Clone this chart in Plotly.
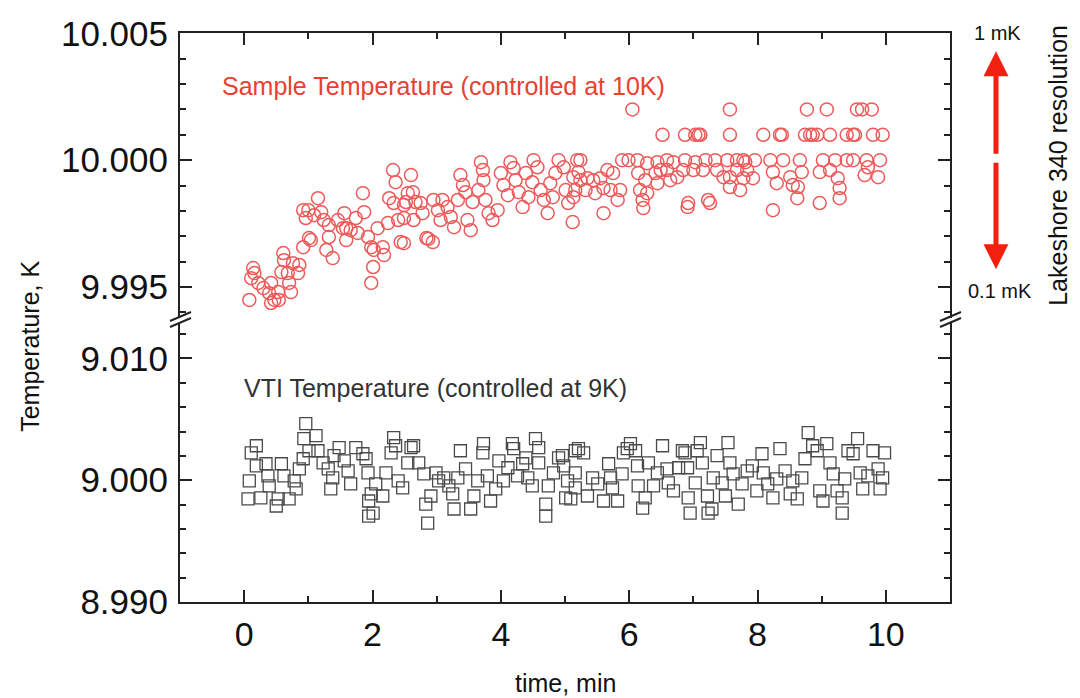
import plotly.graph_objects as go

# sample temperature (red circles), time in min, T in K
sample_t = [0.08, 0.11, 0.14, 0.16, 0.22, 0.30, 0.39, 0.42, 0.42, 0.47, 0.53, 0.54, 0.58, 0.61, 0.62, 0.68,
            0.70, 0.73, 0.76, 0.84, 0.86, 0.92, 0.92, 0.96, 1.00, 1.01, 1.04, 1.09, 1.15, 1.20, 1.24, 1.28,
            1.32, 1.32, 1.38, 1.46, 1.54, 1.56, 1.59, 1.59, 1.66, 1.74, 1.77, 1.85, 1.87, 1.93, 1.98, 1.98,
            2.01, 2.02, 2.08, 2.16, 2.18, 2.24, 2.26, 2.32, 2.33, 2.36, 2.40, 2.44, 2.49, 2.49, 2.49, 2.52,
            2.55, 2.60, 2.63, 2.64, 2.67, 2.75, 2.78, 2.84, 2.87, 2.94, 2.95, 3.02, 3.06, 3.09, 3.17, 3.22,
            3.27, 3.33, 3.37, 3.41, 3.45, 3.48, 3.53, 3.56, 3.65, 3.69, 3.72, 3.73, 3.76, 3.81, 3.87, 3.95,
            4.00, 4.04, 4.11, 4.15, 4.20, 4.23, 4.28, 4.34, 4.39, 4.43, 4.49, 4.51, 4.57, 4.62, 4.67, 4.73,
            4.77, 4.81, 4.85, 4.90, 4.98, 5.01, 5.05, 5.12, 5.13, 5.13, 5.16, 5.19, 5.21, 5.24, 5.24, 5.32,
            5.35, 5.44, 5.47, 5.55, 5.60, 5.60, 5.66, 5.71, 5.75, 5.82, 5.86, 5.89, 5.99, 6.05, 6.13, 6.14,
            6.17, 6.21, 6.22, 6.25, 6.28, 6.28, 6.41, 6.44, 6.44, 6.49, 6.52, 6.59, 6.59, 6.64, 6.69, 6.75,
            6.84, 6.87, 6.87, 6.91, 6.92, 7.00, 7.03, 7.03, 7.08, 7.11, 7.15, 7.19, 7.23, 7.26, 7.34, 7.37,
            7.47, 7.53, 7.57, 7.57, 7.57, 7.57, 7.68, 7.68, 7.73, 7.78, 7.78, 7.81, 7.84, 7.93, 7.96, 8.09,
            8.20, 8.24, 8.24, 8.30, 8.35, 8.38, 8.40, 8.51, 8.55, 8.62, 8.63, 8.66, 8.69, 8.74, 8.77, 8.82,
            8.86, 8.93, 8.97, 8.97, 9.02, 9.08, 9.13, 9.13, 9.21, 9.25, 9.28, 9.28, 9.39, 9.39, 9.49, 9.49,
            9.52, 9.55, 9.63, 9.67, 9.70, 9.72, 9.78, 9.80, 9.88, 9.91, 9.95]
sample_T = [9.99449, 9.99535, 9.99575, 9.99555, 9.99516, 9.99496, 9.99476, 9.99516, 9.99437, 9.99449, 9.99480,
            9.99449, 9.99559, 9.99634, 9.99606, 9.99555, 9.99516, 9.99480, 9.99594, 9.99555, 9.99587, 9.99657,
            9.99803, 9.99772, 9.99803, 9.99693, 9.99685, 9.99783, 9.99850, 9.99795, 9.99764, 9.99646, 9.99697,
            9.99744, 9.99614, 9.99764, 9.99732, 9.99791, 9.99732, 9.99685, 9.99724, 9.99772, 9.99713, 9.99870,
            9.99795, 9.99697, 9.99657, 9.99516, 9.99579, 9.99646, 9.99732, 9.99657, 9.99626, 9.99752, 9.99850,
            9.99961, 9.99831, 9.99913, 9.99764, 9.99677, 9.99772, 9.99823, 9.99673, 9.99835, 9.99870, 9.99941,
            9.99874, 9.99764, 9.99835, 9.99831, 9.99791, 9.99693, 9.99690, 9.99677, 9.99843, 9.99803, 9.99764,
            9.99843, 9.99815, 9.99776, 9.99736, 9.99843, 9.99941, 9.99902, 9.99874, 9.99764, 9.99724, 9.99835,
            9.99882, 9.99992, 9.99961, 9.99921, 9.99843, 9.99791, 9.99764, 9.99803, 9.99949, 9.99902, 9.99862,
            9.99992, 9.99969, 9.99921, 9.99874, 9.99815, 9.99949, 9.99854, 9.99913, 10.00000, 9.99972, 9.99882,
            9.99843, 9.99791, 9.99909, 9.99854, 9.99949, 10.00000, 9.99972, 9.99882, 9.99831, 9.99756, 9.99854,
            9.99933, 9.99882, 10.00000, 9.99953, 10.00000, 9.99921, 9.99882, 9.99929, 9.99921, 9.99870, 9.99929,
            9.99890, 9.99791, 9.99961, 9.99882, 9.99949, 9.99843, 9.99882, 10.00000, 10.00000, 10.00200, 10.00000,
            9.99949, 9.99882, 9.99843, 9.99811, 9.99921, 9.99988, 9.99870, 9.99949, 9.99992, 9.99909, 9.99961,
            10.00100, 10.00000, 9.99961, 9.99921, 9.99992, 9.99933, 9.99961, 10.00100, 10.00000, 9.99815, 9.99831,
            9.99961, 10.00100, 9.99992, 10.00100, 10.00100, 9.99961, 10.00000, 9.99843, 9.99831, 10.00000, 9.99961,
            9.99933, 10.00000, 10.00200, 10.00100, 9.99933, 9.99894, 10.00000, 9.99961, 9.99882, 9.99929, 10.00000,
            9.99992, 9.99961, 9.99929, 10.00000, 10.00100, 10.00000, 9.99953, 9.99803, 9.99909, 10.00100, 10.00100,
            10.00000, 9.99933, 9.99902, 9.99850, 9.99894, 10.00000, 9.99953, 10.00100, 10.00200, 10.00100, 10.00100,
            10.00100, 9.99953, 9.99831, 10.00000, 10.00200, 10.00100, 9.99961, 10.00000, 9.99929, 9.99890, 9.99850,
            10.00100, 10.00000, 10.00100, 10.00000, 10.00100, 10.00200, 10.00200, 9.99941, 10.00000, 9.99972,
            10.00200, 10.00100, 9.99933, 10.00000, 10.00100]

# VTI temperature (grey squares)
vti_t = [0.06, 0.08, 0.11, 0.19, 0.19, 0.26, 0.34, 0.37, 0.39, 0.50, 0.53, 0.58, 0.62, 0.70, 0.78, 0.81,
         0.86, 0.92, 0.96, 0.93, 1.12, 1.01, 1.15, 1.23, 1.31, 1.38, 1.35, 1.40, 1.48, 1.56, 1.62, 1.66,
         1.74, 1.85, 1.90, 1.93, 1.98, 1.94, 1.94, 2.01, 2.05, 2.16, 2.21, 2.29, 2.33, 2.36, 2.40, 2.47,
         2.55, 2.60, 2.64, 2.72, 2.80, 2.83, 2.86, 2.91, 2.99, 3.03, 3.11, 3.19, 3.25, 3.27, 3.33, 3.37,
         3.45, 3.53, 3.58, 3.64, 3.72, 3.73, 3.79, 3.84, 3.92, 3.97, 4.04, 4.11, 4.18, 4.20, 4.26, 4.34,
         4.39, 4.42, 4.49, 4.54, 4.59, 4.59, 4.70, 4.70, 4.74, 4.82, 4.90, 5.16, 4.96, 4.98, 5.04, 5.01,
         5.09, 5.16, 5.16, 5.21, 5.29, 5.35, 5.43, 5.51, 5.60, 5.68, 5.71, 5.74, 5.82, 5.89, 5.91, 5.97,
         6.02, 6.10, 6.13, 6.14, 6.21, 6.25, 6.30, 6.38, 6.44, 6.52, 6.59, 6.61, 6.69, 6.77, 6.83, 6.87,
         6.91, 6.92, 6.95, 7.03, 7.06, 7.11, 7.14, 7.22, 7.23, 7.29, 7.31, 7.37, 7.45, 7.50, 7.54, 7.57,
         7.62, 7.70, 7.76, 7.84, 7.92, 7.99, 8.07, 8.09, 8.16, 8.24, 8.30, 8.35, 8.43, 8.51, 8.55, 8.62,
         8.69, 8.74, 8.79, 8.86, 8.93, 8.97, 9.02, 9.08, 9.13, 9.18, 9.24, 9.32, 9.32, 9.36, 9.41, 9.49,
         9.56, 9.60, 9.64, 9.72, 9.80, 9.88, 9.91, 9.95, 9.98]
vti_T = [8.99846, 8.99994, 9.00225, 9.00283, 9.00118, 8.99854, 9.00135, 9.00036, 8.99953, 8.99788, 8.99846,
         9.00135, 9.00036, 8.99846, 8.99994, 8.99928, 9.00093, 9.00176, 9.00465, 9.00341, 9.00366, 9.00242,
         9.00242, 9.00143, 9.00093, 9.00019, 8.99928, 9.00201, 9.00267, 9.00159, 9.00077, 8.99969, 9.00267,
         9.00217, 9.00176, 9.00060, 8.99887, 8.99829, 8.99705, 8.99730, 8.99969, 8.99870, 9.00060, 9.00225,
         9.00349, 9.00283, 8.99994, 8.99936, 9.00143, 9.00267, 9.00283, 9.00143, 9.00052, 8.99804, 8.99647,
         8.99870, 9.00060, 8.99994, 9.00019, 8.99953, 8.99887, 8.99763, 9.00019, 9.00242, 9.00093, 8.99763,
         8.99870, 8.99994, 9.00225, 9.00300, 9.00036, 8.99829, 8.99928, 9.00159, 8.99994, 9.00102, 9.00300,
         9.00259, 9.00036, 9.00135, 9.00184, 9.00019, 8.99953, 9.00341, 9.00267, 9.00143, 8.99804, 8.99705,
         8.99953, 9.00060, 9.00184, 9.00242, 9.00201, 9.00118, 8.99994, 8.99854, 8.99846, 9.00060, 8.99936,
         9.00259, 9.00225, 8.99870, 9.00019, 8.99969, 8.99829, 9.00135, 9.00019, 8.99936, 8.99829, 9.00052,
         9.00225, 9.00259, 9.00300, 9.00242, 9.00118, 8.99953, 8.99771, 8.99854, 9.00143, 8.99953, 9.00060,
         9.00283, 9.00093, 8.99978, 8.99912, 9.00102, 9.00242, 9.00225, 9.00102, 8.99854, 8.99730, 8.99978,
         9.00242, 9.00308, 9.00143, 8.99870, 8.99730, 8.99763, 9.00019, 9.00201, 8.99978, 8.99870, 9.00308,
         9.00143, 9.00052, 8.99804, 8.99969, 9.00077, 9.00118, 8.99912, 9.00217, 9.00060, 8.99969, 8.99854,
         9.00011, 9.00259, 9.00077, 8.99887, 8.99994, 8.99846, 9.00019, 9.00176, 9.00391, 9.00283, 9.00242,
         8.99912, 8.99829, 9.00300, 9.00143, 9.00052, 8.99912, 8.99854, 8.99730, 9.00011, 9.00242, 9.00217,
         9.00341, 9.00060, 8.99928, 9.00036, 9.00242, 9.00093, 8.99928, 9.00019, 9.00225]

FONT = "Liberation Sans, Arial, sans-serif"
AX = "#222222"
RED = "#ee5a5a"

fig = go.Figure()
fig.add_trace(go.Scatter(x=vti_t, y=vti_T, mode="markers", xaxis="x", yaxis="y",
                         marker=dict(symbol="square-open", size=12, color="#4a4a4a", line=dict(width=1.3))))
fig.add_trace(go.Scatter(x=sample_t, y=sample_T, mode="markers", xaxis="x2", yaxis="y2",
                         marker=dict(symbol="circle-open", size=13, color=RED, line=dict(width=1.5))))

common_x = dict(range=[-1, 11], tick0=0, dtick=2, ticks="inside", ticklen=12, tickwidth=2, tickcolor=AX,
                showline=True, linewidth=2, linecolor=AX, showgrid=False, zeroline=False, automargin=False,
                minor=dict(dtick=1, ticks="inside", ticklen=6, tickwidth=2, tickcolor=AX))
common_y = dict(ticks="inside", ticklen=12, tickwidth=2, tickcolor=AX, showline=True, linewidth=2,
                linecolor=AX, mirror="ticks", showgrid=False, zeroline=False, tickformat=".3f",
                automargin=False, ticklabelstandoff=3, tickfont=dict(size=35, color="#111"))

# page body keeps its 8px default margin, so the figure is 8px smaller
fig.update_layout(
    width=1072, height=690, showlegend=False,
    margin=dict(l=172, r=130, t=25, b=96, autoexpand=False),
    paper_bgcolor="white", plot_bgcolor="white",
    font=dict(family=FONT, color="#111"),
    xaxis=dict(anchor="y", ticklabelstandoff=1, tickfont=dict(size=34, color="#111"), **common_x),
    xaxis2=dict(anchor="y2", side="top", matches="x", showticklabels=False, **common_x),
    yaxis=dict(anchor="x", domain=[0, 0.49], range=[8.98999, 9.0129], tick0=9.0, dtick=0.01,
               minor=dict(dtick=0.002, ticks="inside", ticklen=6, tickwidth=2, tickcolor=AX), **common_y),
    yaxis2=dict(anchor="x2", domain=[0.5, 1], range=[9.9938, 10.00501], tick0=10.0, dtick=0.005,
                minor=dict(dtick=0.001, ticks="inside", ticklen=6, tickwidth=2, tickcolor=AX), **common_y),
)

# axis break marks
for x0, x1 in [(-0.013, 0.0143), (0.987, 1.0143)]:
    for y0, y1 in [(0.4938, 0.5097), (0.4833, 0.4991)]:
        fig.add_shape(type="line", xref="paper", yref="paper", x0=x0, y0=y0, x1=x1, y1=y1,
                      line=dict(color=AX, width=2))

ann = [
    dict(text="Sample Temperature (controlled at 10K)", x=0.052, y=0.907, xanchor="left",
         font=dict(size=25, color="#e8412f")),
    dict(text="VTI Temperature (controlled at 9K)", x=0.08, y=0.376, xanchor="left",
         font=dict(size=25, color="#333")),
    dict(text="Temperature, K", x=-0.195, y=0.45, textangle=-90, font=dict(size=25, color="#111")),
    dict(text="time, min", x=0.5, y=-0.142, font=dict(size=25, color="#111")),
    dict(text="1 mK", x=1.062, y=1.0, font=dict(size=20, color="#111")),
    dict(text="0.1 mK", x=1.065, y=0.547, font=dict(size=20, color="#111")),
    dict(text="Lakeshore 340 resolution", x=1.14, y=0.768, textangle=-90, font=dict(size=25, color="#111")),
]
for a in ann:
    fig.add_annotation(xref="paper", yref="paper", showarrow=False, yanchor="middle",
                       **({"xanchor": "center"} | a))

# resolution double arrow
fig.add_annotation(xref="paper", yref="paper", x=1.0597, y=0.968, ax=0, ay=104, text="",
                   showarrow=True, arrowhead=2, arrowsize=1.0, arrowwidth=5, arrowcolor="#f4200f")
fig.add_annotation(xref="paper", yref="paper", x=1.0597, y=0.585, ax=0, ay=-108, text="",
                   showarrow=True, arrowhead=2, arrowsize=1.0, arrowwidth=5, arrowcolor="#f4200f")

fig.write_html("out.html")
